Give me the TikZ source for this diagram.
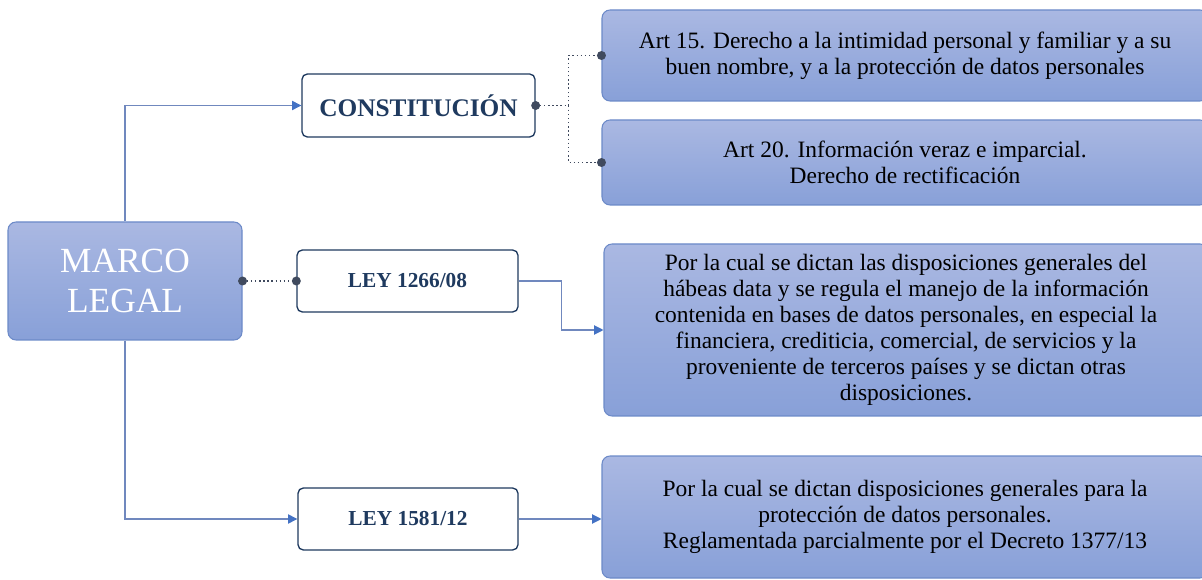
\documentclass[tikz,border=0pt]{standalone}
\usepackage{fontspec}
\setmainfont{Liberation Serif}
\usetikzlibrary{arrows.meta}

\definecolor{boxtop}{RGB}{170,184,226}
\definecolor{boxbot}{RGB}{136,160,216}
\definecolor{boxedge}{RGB}{108,138,200}
\definecolor{navy}{RGB}{31,58,95}
\definecolor{linkline}{RGB}{112,136,190}
\definecolor{arrowblue}{RGB}{68,114,196}
\definecolor{pinc}{RGB}{64,74,94}

\tikzset{
  bluebox/.style={draw=boxedge, line width=0.8pt, top color=boxtop, bottom color=boxbot,
    rounded corners=6pt, align=center, inner sep=0pt},
  lawbox/.style={draw=navy, fill=white, line width=1pt, rounded corners=4pt,
    text=navy, inner sep=0pt},
  arrowline/.style={draw=linkline, line width=0.8pt,
    -{Triangle[length=7pt,width=7pt,color=arrowblue]}},
  dotline/.style={draw=pinc, dotted, line width=1.1pt},
  bodytext/.style={font=\fontsize{17.6}{19.5}\selectfont, text=black}
}

\begin{document}
\begin{tikzpicture}[x=0.75pt,y=0.75pt,yscale=-1]
\useasboundingbox (0,0) rectangle (1202,580);

% main box
\node[bluebox, minimum width=175.5pt, minimum height=88.5pt, text=white,
  font=\fontsize{26.5}{30}\selectfont] (marco) at (125,281) {MARCO\\LEGAL};

% laws
\node[lawbox, minimum width=174.75pt, minimum height=47.25pt,
  font=\fontsize{19}{20}\selectfont\bfseries] (const) at (418.5,105.5) {CONSTITUCIÓN};
\node[lawbox, minimum width=165.75pt, minimum height=46.5pt,
  font=\fontsize{16}{18}\selectfont\bfseries] (ley1266) at (407.5,281) {LEY 1266/08};
\node[lawbox, minimum width=165pt, minimum height=46.5pt,
  font=\fontsize{16}{18}\selectfont\bfseries] (ley1581) at (408,519) {LEY 1581/12};

% descriptions
\node[bluebox, bodytext, minimum width=454.5pt, minimum height=68.25pt] (art15) at (905,55.5)
  {Art 15. Derecho a la intimidad personal y familiar y a su\\buen nombre, y a la protección de datos personales};
\node[bluebox, bodytext, minimum width=454.5pt, minimum height=63.75pt] (art20) at (905,162.5)
  {Art 20. Información veraz e imparcial.\\Derecho de rectificación};
\node[bluebox, bodytext, minimum width=453pt, minimum height=129pt] (habeas) at (906,330)
  {Por la cual se dictan las disposiciones generales del\\hábeas data y se regula el manejo de la información\\contenida en bases de datos personales, en especial la\\financiera, crediticia, comercial, de servicios y la\\proveniente de terceros países y se dictan otras\\disposiciones.};
\node[bluebox, bodytext, minimum width=454.5pt, minimum height=91.5pt] (proteccion) at (905,517)
  {Por la cual se dictan disposiciones generales para la\\protección de datos personales.\\Reglamentada parcialmente por el Decreto 1377/13};

% connectors
\draw[arrowline] (marco.north) |- (const.west);
\draw[arrowline] (marco.south) |- (ley1581.west);
\draw[dotline] (marco.east) -- (ley1266.west);
\draw[dotline] (const.east) -- ++(33,0) coordinate (cfork) |- (art15.west);
\draw[dotline] (cfork) |- (art20.west);
\draw[arrowline] (ley1266.east) -- ++(43,0) |- (habeas.west);
\draw[arrowline] (ley1581.east) -- (ley1581.east -| proteccion.west);

% pins
\foreach \p in {marco.east, ley1266.west, const.east, art15.west, art20.west}
  \fill[pinc] (\p) circle (4.5);

\end{tikzpicture}
\end{document}
